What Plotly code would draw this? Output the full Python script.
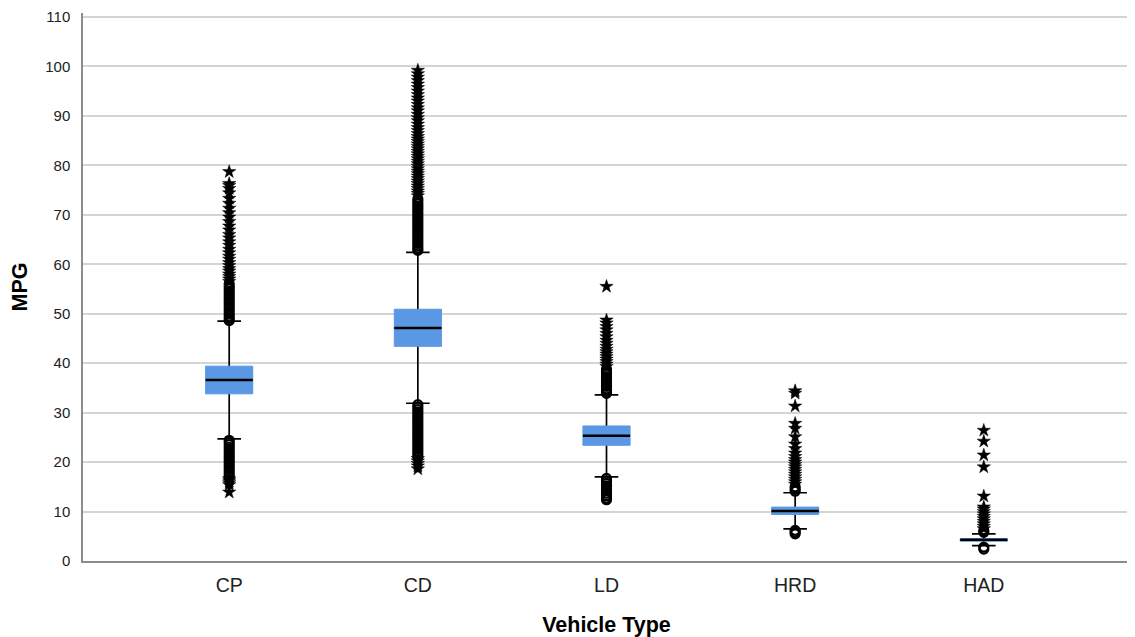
import plotly.graph_objects as go

categories = ["CP", "CD", "LD", "HRD", "HAD"]

lower_fence = [24.7, 31.9, 17.0, 6.5, 3.1]
q1 = [33.8, 43.4, 23.4, 9.4, 4.0]
median = [36.6, 47.1, 25.3, 10.1, 4.3]
q3 = [39.4, 50.9, 27.3, 10.9, 4.5]
upper_fence = [48.5, 62.4, 33.6, 13.8, 5.5]

# mild outliers (circles)
cp_circles = [48.6, 49.0, 49.5, 50.0, 50.5, 51.0, 51.5, 52.0, 52.5, 53.0, 53.5, 54.0, 54.5, 55.0, 55.5, 56.0,
              24.4, 24.0, 23.5, 23.0, 22.5, 22.0, 21.5, 21.0, 20.5, 20.0, 19.5, 19.0, 18.5, 18.0, 17.5, 17.0]
cd_circles = [62.8, 63.2, 63.7, 64.2, 64.7, 65.2, 65.7, 66.2, 66.7, 67.2, 67.7, 68.2, 68.7, 69.2, 69.7, 70.2,
              70.7, 71.2, 71.7, 72.2, 72.7, 73.2,
              31.6, 31.1, 30.6, 30.1, 29.6, 29.1, 28.6, 28.1, 27.6, 27.1, 26.6, 26.1, 25.6, 25.1, 24.6, 24.1,
              23.6, 23.1, 22.6, 22.1, 21.6, 21.1]
ld_circles = [33.9, 34.3, 34.8, 35.3, 35.8, 36.3, 36.8, 37.3, 37.8, 38.3, 38.8,
              16.7, 16.2, 15.7, 15.2, 14.7, 14.2, 13.7, 13.2, 12.7, 12.4]
hrd_circles = [14.1, 14.5, 15.0, 6.2, 5.8, 5.5]
had_circles = [5.8, 6.1, 2.8, 2.4]

# extreme outliers (stars)
cp_stars = [56.5, 57.0, 57.5, 58.0, 58.6, 59.1, 59.7, 60.3, 61.0, 61.6, 62.3, 63.0, 63.8, 64.5, 65.3, 66.0,
            66.9, 67.7, 68.6, 69.5, 70.4, 71.3, 72.3, 73.3, 74.4, 75.3, 75.9, 76.3, 78.7,
            16.6, 16.2, 15.8, 15.4, 13.9]
cd_stars = [73.8, 74.3, 74.8, 75.3, 75.8, 76.3, 76.8, 77.3, 77.8, 78.3, 78.8, 79.3, 79.8, 80.3, 80.8, 81.3,
            81.8, 82.3, 82.8, 83.3, 83.8, 84.3, 84.8, 85.3, 85.8, 86.4, 87.0, 87.6, 88.3, 89.0, 89.6, 90.3,
            91.0, 91.6, 92.3, 93.0, 93.6, 94.3, 95.0, 95.7, 96.4, 97.1, 97.8, 98.5, 99.2,
            20.7, 20.2, 19.7, 19.2, 18.6]
ld_stars = [39.3, 39.8, 40.3, 40.8, 41.3, 41.8, 42.3, 42.8, 43.4, 44.0, 44.6, 45.3, 46.0, 46.7, 47.4, 48.1,
            48.7, 55.5]
hrd_stars = [15.5, 16.0, 16.5, 17.0, 17.5, 18.0, 18.5, 19.0, 19.5, 20.0, 20.5, 21.1, 21.8, 22.7, 23.6,
             25.1, 26.8, 27.8, 31.3, 33.9, 34.4]
had_stars = [6.5, 7.0, 7.5, 8.0, 8.5, 9.0, 9.5, 10.0, 10.5, 10.9, 13.1, 19.0, 21.4, 24.2, 26.4]

y_ticks = [0, 10, 20, 30, 40, 50, 60, 70, 80, 90, 100, 110]

BLUE = "#5a98e4"
FONT = "Liberation Sans, Arial, sans-serif"
BOX_W = 0.25

circle_sets = [cp_circles, cd_circles, ld_circles, hrd_circles, had_circles]
star_sets = [cp_stars, cd_stars, ld_stars, hrd_stars, had_stars]

fig = go.Figure()

# whiskers + caps (black)
fig.add_trace(go.Box(
    x=categories, q1=median, median=median, q3=median,
    lowerfence=lower_fence, upperfence=upper_fence,
    line=dict(color="black", width=1.7), fillcolor="rgba(0,0,0,0)",
    width=BOX_W, whiskerwidth=0.5, boxpoints=False, showlegend=False, hoverinfo="skip",
))
# blue box
fig.add_trace(go.Box(
    x=categories, q1=q1, median=median, q3=q3,
    lowerfence=q1, upperfence=q3,
    line=dict(color=BLUE, width=1), fillcolor=BLUE,
    width=BOX_W, whiskerwidth=0, boxpoints=False, showlegend=False, hoverinfo="skip",
))
# median (black)
fig.add_trace(go.Box(
    x=categories, q1=median, median=median, q3=median,
    lowerfence=median, upperfence=median,
    line=dict(color="black", width=2.5), fillcolor="rgba(0,0,0,0)",
    width=BOX_W, whiskerwidth=0, boxpoints=False, showlegend=False, hoverinfo="skip",
))

cx, cy, sx, sy = [], [], [], []
for cat, vals in zip(categories, circle_sets):
    cx += [cat] * len(vals)
    cy += vals
for cat, vals in zip(categories, star_sets):
    sx += [cat] * len(vals)
    sy += vals

fig.add_trace(go.Scatter(
    x=cx, y=cy, mode="markers",
    marker=dict(symbol="circle-open", size=9, color="black", line=dict(width=2.2, color="black")),
    showlegend=False, hoverinfo="skip",
))
fig.add_trace(go.Scatter(
    x=sx, y=sy, mode="markers",
    marker=dict(symbol="star", size=10, color="black", line=dict(width=0.5, color="black")),
    showlegend=False, hoverinfo="skip",
))

fig.update_layout(
    width=1127, height=629,
    margin=dict(l=75, r=5, t=5, b=76, autoexpand=False),
    paper_bgcolor="white", plot_bgcolor="white",
    boxmode="overlay",
    font=dict(family=FONT, color="black"),
)
fig.update_xaxes(
    type="category", categoryorder="array", categoryarray=categories,
    range=[-0.775, 4.775],
    showgrid=False, zeroline=False,
    showline=True, linecolor="#8c8c8c", linewidth=1.5,
    ticks="", ticklabelstandoff=6,
    tickfont=dict(size=19.5, color="#222222", family=FONT),
    title=dict(text="<b>Vehicle Type</b>", font=dict(size=21.5, color="black", family=FONT), standoff=26),
)
fig.update_yaxes(
    range=[0, 110.8], tickvals=y_ticks,
    showgrid=True, gridcolor="#d4d4d4", gridwidth=2,
    zeroline=False,
    showline=True, linecolor="#8c8c8c", linewidth=1.5,
    ticks="", ticklabelstandoff=8,
    tickfont=dict(size=15, color="#222222", family=FONT),
    title=dict(text="<b>MPG</b>", font=dict(size=21.5, color="black", family=FONT), standoff=19),
)

fig.write_html("out.html")
